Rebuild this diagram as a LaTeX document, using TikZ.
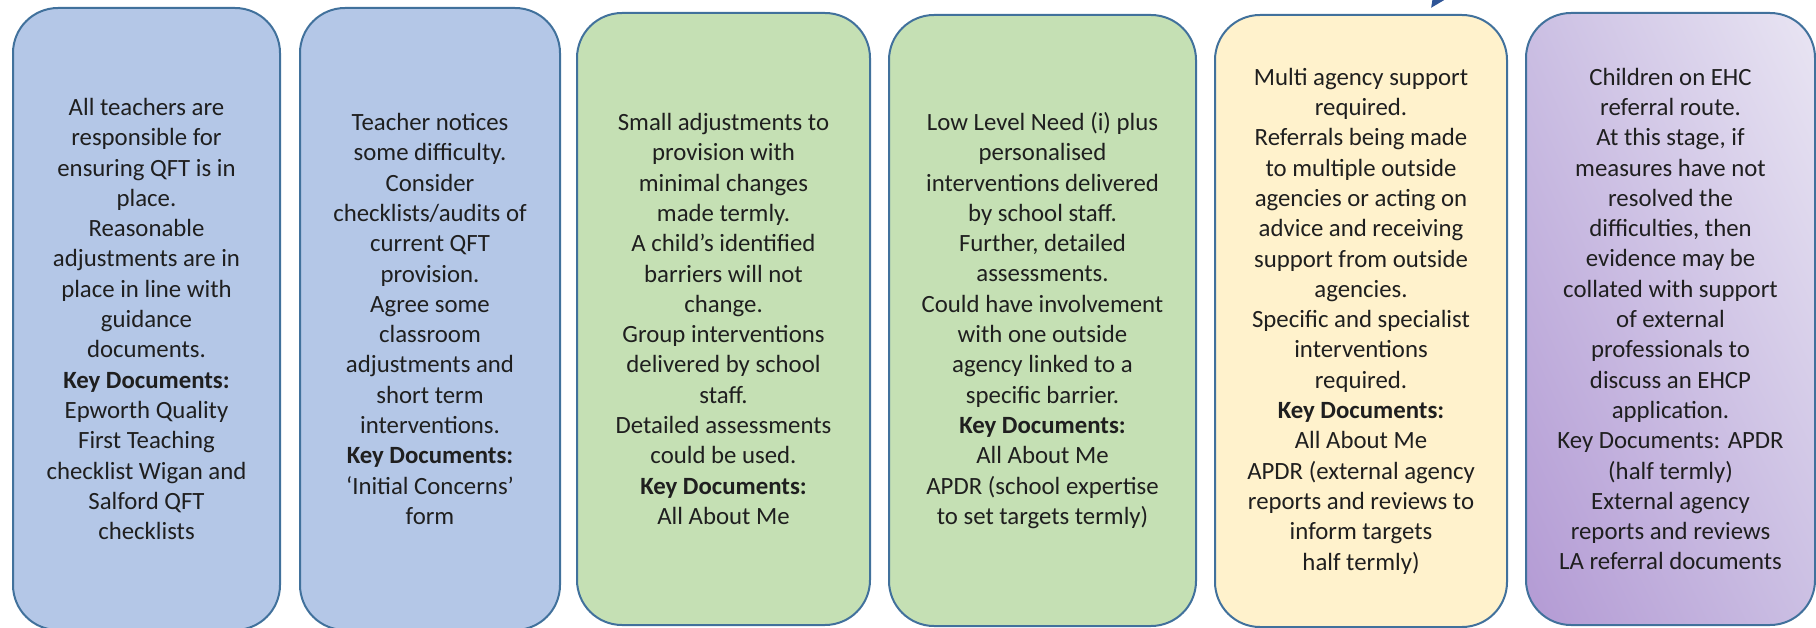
\documentclass[tikz,border=0pt]{standalone}
\usepackage{fontspec}
\setmainfont{Carlito}
\usetikzlibrary{arrows.meta,shadings}
\definecolor{edgeblue}{HTML}{41719C}
\definecolor{arrowblue}{HTML}{2F5597}
\definecolor{fillblue}{HTML}{B4C7E7}
\definecolor{fillgreen}{HTML}{C5E0B4}
\definecolor{fillyellow}{HTML}{FFF2CC}
\definecolor{purpledark}{HTML}{B39AD4}
\definecolor{purplemid}{HTML}{CBBFE3}
\definecolor{purplelight}{HTML}{E9E5F3}
\begin{document}
\begin{tikzpicture}[x=1pt,y=-1pt,
    stage/.style={draw=edgeblue,line width=2pt,rounded corners=45pt,align=center,
        text=black!88,font=\fontsize{24.8}{30.3}\selectfont}]
\useasboundingbox (0,0) rectangle (1816,628);
\node[stage,fill=fillblue,minimum width=267,minimum height=622] (needA) at (146.5,319) {
    All teachers are\\ responsible for\\ ensuring QFT is in\\ place.\\ Reasonable\\
    adjustments are in\\ place in line with\\ guidance\\ documents.\\
    \textbf{Key Documents:}\\ Epworth Quality\\ First Teaching\\
    checklist Wigan and\\ Salford QFT\\ checklists};
\node[stage,fill=fillblue,minimum width=260,minimum height=622] (needB) at (430,319) {
    Teacher notices\\ some difficulty.\\ Consider\\ checklists/audits of\\
    current QFT\\ provision.\\ Agree some\\ classroom\\ adjustments and\\
    short term\\ interventions.\\ \textbf{Key Documents:}\\ `Initial Concerns'\\ form};
\node[stage,fill=fillgreen,minimum width=293,minimum height=612] (needC) at (723.5,319) {
    Small adjustments to\\ provision with\\ minimal changes\\ made termly.\\
    A child's identified\\ barriers will not\\ change.\\ Group interventions\\
    delivered by school\\ staff.\\ Detailed assessments\\ could be used.\\
    \textbf{Key Documents:}\\ All About Me};
\node[stage,fill=fillgreen,minimum width=307,minimum height=611] (needD) at (1042.5,320.5) {
    Low Level Need (i) plus\\ personalised\\ interventions delivered\\
    by school staff.\\ Further, detailed\\ assessments.\\ Could have involvement\\
    with one outside\\ agency linked to a\\ specific barrier.\\
    \textbf{Key Documents:}\\ All About Me\\ APDR (school expertise\\
    to set targets termly)};
\node[stage,fill=fillyellow,minimum width=292,minimum height=612] (needE) at (1361,321) {
    Multi agency support\\ required.\\ Referrals being made\\ to multiple outside\\
    agencies or acting on\\ advice and receiving\\ support from outside\\
    agencies.\\ Specific and specialist\\ interventions\\ required.\\
    \textbf{Key Documents:}\\ All About Me\\ APDR (external agency\\
    reports and reviews to\\ inform targets\\ half termly)};
\node[stage,lower left=purpledark,upper right=purplelight,upper left=purplemid,
    lower right=purplemid,minimum width=289,minimum height=612] (needF) at (1670.5,319) {
    Children on EHC\\ referral route.\\ At this stage, if\\ measures have not\\
    resolved the\\ difficulties, then\\ evidence may be\\ collated with support\\
    of external\\ professionals to\\ discuss an EHCP\\ application.\\
    Key Documents: APDR\\ (half termly)\\ External agency\\ reports and reviews\\
    LA referral documents};
% arrow coming in from above, cut by the page edge
\coordinate (loopstart) at (1460,-40);
\coordinate (looptip) at (1431,8);
\draw[arrowblue,line width=3pt,-{Triangle[length=14pt,width=12pt]}]
    (loopstart) .. controls (1450,-20) .. (looptip);
\end{tikzpicture}
\end{document}
